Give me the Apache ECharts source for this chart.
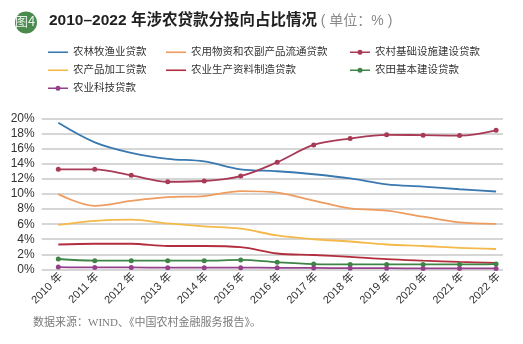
<!DOCTYPE html>
<html>
<head>
<meta charset="utf-8">
<script src="https://cdn.jsdelivr.net/npm/echarts@6/dist/echarts.min.js"></script>
<style>
html,body{margin:0;padding:0;background:#fff;}
#c{width:523px;height:344px;}
</style>
</head>
<body>
<div id="c"></div>
<script>
var years = [2010, 2011, 2012, 2013, 2014, 2015, 2016, 2017, 2018, 2019, 2020, 2021, 2022];
var yTicks = [0, 2, 4, 6, 8, 10, 12, 14, 16, 18, 20];
var nongLinMuYu = [19.5, 16.9, 15.5, 14.7, 14.35, 13.3, 13.05, 12.65, 12.1, 11.3, 11.0, 10.65, 10.35];
var liuTong = [10.0, 8.45, 9.1, 9.6, 9.75, 10.4, 10.2, 9.15, 8.1, 7.8, 7.0, 6.25, 6.05];
var jiChuSheShi = [13.3, 13.3, 12.5, 11.65, 11.75, 12.4, 14.25, 16.55, 17.4, 17.9, 17.85, 17.8, 18.5];
var jiaGong = [5.9, 6.45, 6.6, 6.1, 5.7, 5.4, 4.5, 4.0, 3.7, 3.3, 3.1, 2.85, 2.7];
var ziLiao = [3.3, 3.4, 3.4, 3.1, 3.1, 2.95, 2.1, 1.9, 1.65, 1.35, 1.15, 0.98, 0.85];
var nongTian = [1.37, 1.15, 1.15, 1.15, 1.15, 1.25, 0.93, 0.7, 0.65, 0.65, 0.65, 0.65, 0.7];
var keJi = [0.3, 0.25, 0.25, 0.22, 0.22, 0.22, 0.2, 0.18, 0.15, 0.15, 0.12, 0.12, 0.12];
var names = ['农林牧渔业贷款', '农用物资和农副产品流通贷款', '农村基础设施建设贷款', '农产品加工贷款', '农业生产资料制造贷款', '农田基本建设贷款', '农业科技贷款'];
var withMarker = [false, false, true, false, false, true, true];

function pairs(arr) { return years.map(function (y, i) { return [y, arr[i]]; }); }

var chart = echarts.init(document.getElementById('c'), null, {renderer: 'canvas'});
var font = 'Arial, "Liberation Sans", "Noto Sans CJK SC", sans-serif';
var ICON_LINE = 'path://M0,4.2h20v1.6h-20z';
var ICON_DOT = 'path://M0,4.2h7.7v1.6h-7.7z M12.3,4.2h7.7v1.6h-7.7z M7.5,5a2.5,2.5 0 1,1 5,0a2.5,2.5 0 1,1 -5,0z';

function mk(name, data, color, withSym) {
  return {
    name: name, type: 'line', data: pairs(data), smooth: 0.35,
    symbol: withSym ? 'circle' : 'none', symbolSize: 5,
    lineStyle: {color: color, width: 1.8},
    itemStyle: {color: color},
    z: withSym ? 3 : 2
  };
}

function legend(left, idx) {
  return {
    data: idx.map(function (i) {
      return {name: names[i], icon: withMarker[i] ? ICON_DOT : ICON_LINE};
    }),
    left: left, top: 47, orient: 'vertical', itemGap: 7.5, padding: 0,
    itemWidth: 20, itemHeight: 12,
    textStyle: {fontSize: 10.5, color: '#333', fontFamily: font},
    selectedMode: false
  };
}

chart.setOption({
  animation: false,
  backgroundColor: '#fff',
  graphic: [
    {type: 'circle', shape: {cx: 26, cy: 22.5, r: 11}, style: {fill: '#4a8a4c'}},
    {type: 'text', left: 15, top: 15, style: {text: '图4', fill: '#e8f2e8', font: '13px "Noto Sans CJK SC", sans-serif'}},
    {type: 'text', left: 49, top: 13, style: {
      rich: {
        a: {fontSize: 15.5, fontWeight: 'bold', fill: '#1f1f1f', fontFamily: font},
        b: {fontSize: 14, fill: '#8a8a8a', fontFamily: font}
      },
      text: '{a|2010–2022 年涉农贷款分投向占比情况}{b| ( 单位：% )}'
    }},
    {type: 'text', left: 33, top: 318, style: {text: '数据来源：WIND、《中国农村金融服务报告》。', fill: '#7a7a7a', font: '11px "Liberation Serif", "Noto Sans CJK SC", serif'}}
  ],
  legend: [
    legend(48, [0, 3, 6]),
    legend(166, [1, 4]),
    legend(350, [2, 5])
  ],
  grid: {left: 41.7, right: 20, top: 119, bottom: 344 - 269.3, containLabel: false},
  xAxis: {
    type: 'value', min: 2009.545, max: 2022.19,
    axisLine: {show: false}, axisTick: {show: false}, splitLine: {show: false},
    axisLabel: {
      customValues: years, rotate: 45, margin: 8, fontSize: 11, color: '#333', fontFamily: font,
      padding: [7, -3.5, 0, 0],
      formatter: function (v) { return Math.round(v) + ' 年'; }
    }
  },
  yAxis: {
    type: 'value', min: 0, max: 20, interval: 2,
    axisLine: {show: false}, axisTick: {show: false},
    splitLine: {lineStyle: {color: '#c8c8c8', width: 1.5}},
    axisLabel: {fontSize: 12, color: '#333', margin: 7, fontFamily: font,
      formatter: function (v) { return yTicks.indexOf(v) >= 0 ? v + '%' : ''; }}
  },
  series: [
    mk(names[0], nongLinMuYu, '#3a78b0', false),
    mk(names[1], liuTong, '#ee9c60', false),
    mk(names[2], jiChuSheShi, '#a83a56', true),
    mk(names[3], jiaGong, '#f4b94a', false),
    mk(names[4], ziLiao, '#b22e3c', false),
    mk(names[5], nongTian, '#3e8446', true),
    mk(names[6], keJi, '#96408c', true)
  ]
});
</script>
</body>
</html>
